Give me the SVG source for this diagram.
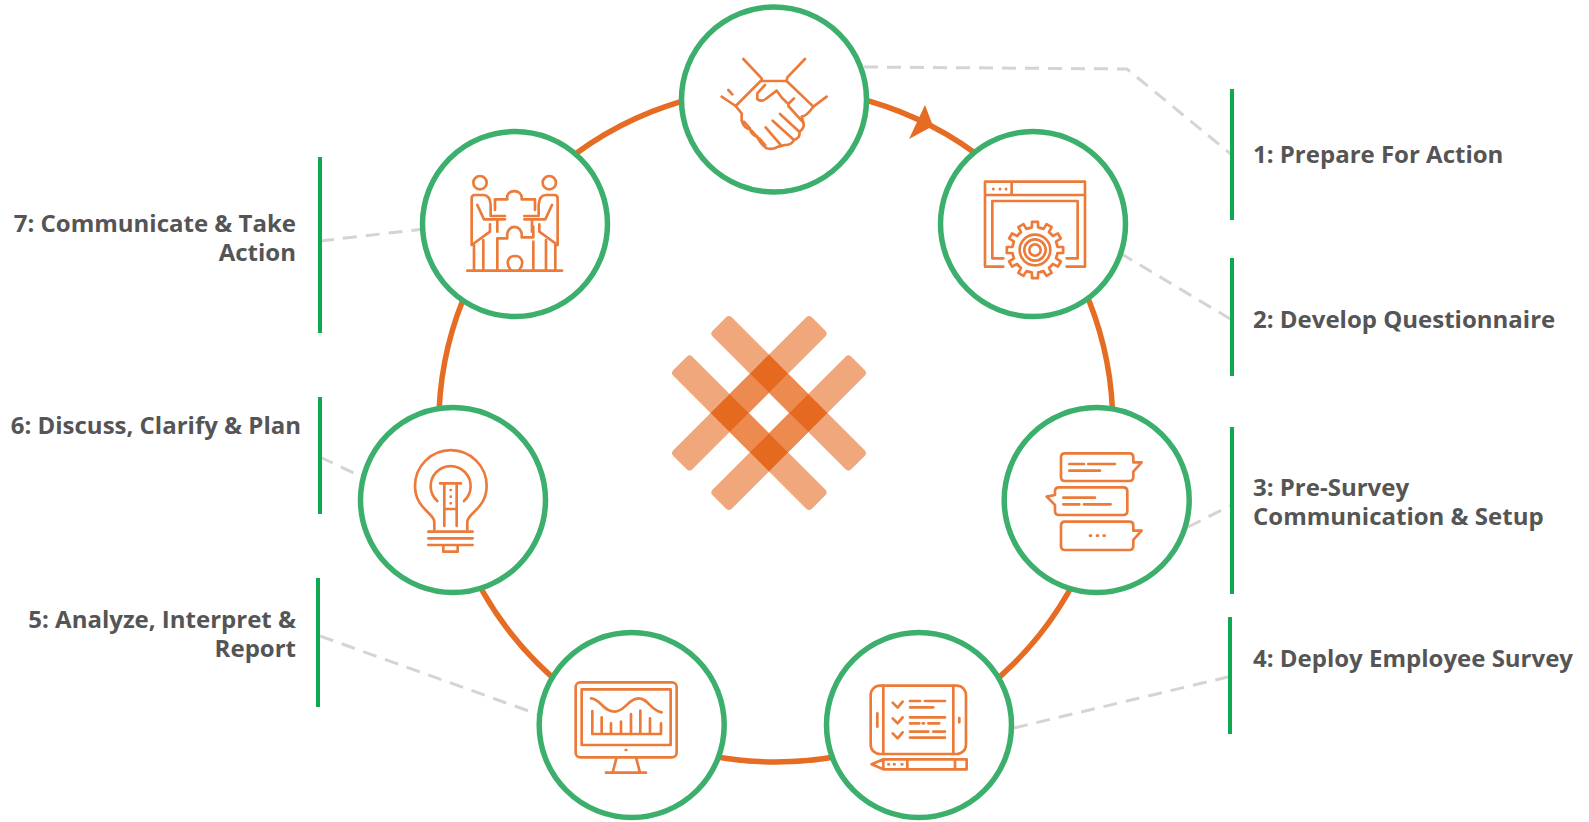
<svg xmlns="http://www.w3.org/2000/svg" xmlns:xlink="http://www.w3.org/1999/xlink" width="1589" height="822" viewBox="0 0 1589 822">
<style>
text{font-family:"Open Sans","Noto Sans","Liberation Sans",sans-serif;font-weight:700;font-size:24px;fill:#555}
.e{text-anchor:end}
.n{fill:#fff;stroke:#3BAF6B;stroke-width:5.5}
.i{fill:none;stroke:#EC7B3A;stroke-width:8;stroke-linecap:round;stroke-linejoin:round}
.d{fill:#EC7B3A}
.g{stroke:#0DAA52;stroke-width:4;fill:none}
.c{fill:none;stroke:#D4D4D4;stroke-width:3;stroke-dasharray:14 9}
</style>
<defs>
<path id="tooth" d="M65.7,-17.6 L67.3,-9.5 L84.5,-8.9 L84.5,8.9 L67.3,9.5 L65.7,17.6"/>
</defs>
<g id="connectors">
<circle cx="775.8" cy="425" r="337" fill="none" stroke="#E56C22" stroke-width="5.5"/>
<path d="M925,105 L909,139 L933,126Z" fill="#E56C22"/>
<path class="c" d="M864,67 L1127,69 L1232,155"/>
<path class="c" d="M1120,253 L1232,320"/>
<path class="c" d="M1188,527 L1232,505"/>
<path class="c" d="M1014,728 L1232,676"/>
<path class="c" d="M320,636 L537,714"/>
<path class="c" d="M320,457 L360,476"/>
<path class="c" d="M320,241 L424,229"/>
<path class="g" d="M1232,89V220M1232,258V376M1232,427V594M1230,617V734M320,157V333M320,397V514M318,578V707"/>
</g>
<g id="logo" transform="translate(769,413) rotate(45)">
<g fill="#EFA77B">
<rect x="-98" y="-41.3" width="196" height="27" rx="4"/>
<rect x="-98" y="14.3" width="196" height="27" rx="4"/>
<rect x="-41.3" y="-98" width="27" height="196" rx="4"/>
<rect x="14.3" y="-98" width="27" height="196" rx="4"/>
</g>
<g fill="#EC8A50">
<rect x="-14.3" y="-41.3" width="28.6" height="27"/>
<rect x="-14.3" y="14.3" width="28.6" height="27"/>
<rect x="-41.3" y="-14.3" width="27" height="28.6"/>
<rect x="14.3" y="-14.3" width="27" height="28.6"/>
</g>
<g fill="#E56A20">
<rect x="-41.3" y="-41.3" width="27" height="27"/>
<rect x="14.3" y="-41.3" width="27" height="27"/>
<rect x="-41.3" y="14.3" width="27" height="27"/>
<rect x="14.3" y="14.3" width="27" height="27"/>
</g>
</g>
<g id="node1">
<circle class="n" cx="774" cy="99.5" r="92.5"/>
<g class="i" transform="translate(670,0) scale(.3333)">
<path d="M220,177L275,235V243H350L352,232L405,177"/>
<path d="M155,290L197,318L272,243M175,270L187,283M470,290L430,320L350,243"/>
<path d="M197,318L215,340V362Q222,385 240,388Q245,405 262,410Q270,430 290,445Q310,450 325,440L345,435Q365,435 372,420Q392,415 388,395Q405,385 400,368L395,350Q410,348 430,320"/>
<path d="M285,255L262,280V297C270,305 280,302 287,297L320,272C328,285 340,300 355,312L372,295M355,318L400,368"/>
<path d="M330,342L388,395M308,362L372,420M287,382L332,435"/>
<path d="M222,365L240,385M245,392L262,412M268,415L285,435"/>
</g>
</g>
<g id="node2">
<circle class="n" cx="1033" cy="224" r="92.5"/>
<g class="i" transform="translate(930,130) scale(.3333)">
<path d="M220,410H165V155H465V410H410M165,195H465M245,155V195M220,385H187V213H443V385H410"/>
<circle class="d" cx="190" cy="177" r="4.5" stroke="none"/><circle class="d" cx="210" cy="177" r="4.5" stroke="none"/><circle class="d" cx="228" cy="177" r="4.5" stroke="none"/>
<g transform="translate(315,360)">
<circle r="68" fill="#fff" stroke="none"/>
<use xlink:href="#tooth" href="#tooth" transform="rotate(0)"/><use xlink:href="#tooth" href="#tooth" transform="rotate(30)"/><use xlink:href="#tooth" href="#tooth" transform="rotate(60)"/><use xlink:href="#tooth" href="#tooth" transform="rotate(90)"/><use xlink:href="#tooth" href="#tooth" transform="rotate(120)"/><use xlink:href="#tooth" href="#tooth" transform="rotate(150)"/><use xlink:href="#tooth" href="#tooth" transform="rotate(180)"/><use xlink:href="#tooth" href="#tooth" transform="rotate(210)"/><use xlink:href="#tooth" href="#tooth" transform="rotate(240)"/><use xlink:href="#tooth" href="#tooth" transform="rotate(270)"/><use xlink:href="#tooth" href="#tooth" transform="rotate(300)"/><use xlink:href="#tooth" href="#tooth" transform="rotate(330)"/>
<circle r="46"/><circle r="32"/><circle r="17"/>
</g>
</g>
</g>
<g id="node3">
<circle class="n" cx="1096.7" cy="500" r="92.5"/>
<g class="i" transform="translate(1000,405) scale(.3333)">
<path d="M195,145H388Q400,145 400,157V172H425L400,200V216Q400,228 388,228H195Q183,228 183,216V157Q183,145 195,145Z"/>
<path d="M208,177H252M265,177H345M208,197H300"/>
<path d="M177,247H370Q382,247 382,259V318Q382,330 370,330H177Q165,330 165,318V300L140,275L165,270V259Q165,247 177,247Z"/>
<path d="M190,278H285M190,298H238M252,298H332"/>
<path d="M195,350H388Q400,350 400,362V377H425L400,405V423Q400,435 388,435H195Q183,435 183,423V362Q183,350 195,350Z"/>
<path d="M270,392H273M291,392H294M311,392H314"/>
</g>
</g>
<g id="node4">
<circle class="n" cx="919" cy="725" r="92.5"/>
<g class="i" transform="translate(820,630) scale(.3333)">
<rect x="152" y="167" width="286" height="205" rx="28"/>
<path d="M190,167V372M400,167V372M172,250V290M418,264V277"/>
<path d="M218,218L233,233L248,215M218,265L233,280L248,262M218,310L233,325L248,307"/>
<path d="M270,213H300M315,213H375M270,232H340M270,262H375M270,280H298M308,280H312M325,280H358M270,305H325M340,305H375M270,323H375"/>
<path d="M190,388H440V418H190L155,403ZM190,388V418M262,388V418M405,388V418M205,403H207M222,403H224M245,403H247"/>
</g>
</g>
<g id="node5">
<circle class="n" cx="631.7" cy="725" r="92.5"/>
<g class="i" transform="translate(535,630) scale(.3333)">
<rect x="122" y="157" width="303" height="225" rx="14"/>
<rect x="140" y="178" width="267" height="167"/>
<path d="M245,382L233,428M303,382L315,428M213,428H333"/>
<path d="M272,360H274"/>
<path d="M168,205C195,205 205,245 238,245C270,245 280,205 310,205C340,205 345,240 380,247"/>
<path d="M172,243V312H378V280M200,262V312M228,280V312M258,275V312M288,252V312M316,242V312M345,265V312"/>
</g>
</g>
<g id="node6">
<circle class="n" cx="453" cy="500" r="92.5"/>
<g class="i" transform="translate(355,405) scale(.3333)">
<path d="M238,375V350C238,325 180,310 180,243A107,107 0 0 1 395,243C395,310 337,325 337,350V375"/>
<path d="M247,288A60,60 0 1 1 327,288"/>
<path d="M255,235H318M268,235V363M305,235V363M268,312H305"/>
<path d="M287,255H287.5M287,275H287.5M287,295H287.5"/>
<path d="M220,380H353M220,400H353M220,420H353M265,422V440H308V422"/>
</g>
</g>
<g id="node7">
<circle class="n" cx="515" cy="224" r="92.5"/>
<g class="i" transform="translate(420,130) scale(.3333)">
<circle cx="180" cy="158" r="20"/><circle cx="388" cy="158" r="20"/>
<path d="M142,422H426"/>
<path d="M155,345V205Q155,195 165,195H190Q210,195 212,225V258H255M172,225L192,268H255M232,268V305M155,345L210,305V283M162,345V422M190,330V422"/>
<path d="M413,345V205Q413,195 403,195H378Q358,195 356,225V258H313M396,225L376,268H313M336,268V305M413,345L358,305V283M406,345V422M378,330V422"/>
<path d="M225,240V208H262C255,175 310,175 305,208H345V240"/>
<path d="M232,422V325H262C255,280 310,280 305,322H340V290M340,335V422"/>
<path d="M272,420C255,398 265,378 285,378C305,378 315,398 298,420"/>
</g>
</g>
<g id="labels">
<text x="1253" y="163">1: Prepare For Action</text>
<text x="1253" y="328">2: Develop Questionnaire</text>
<text x="1253" y="496">3: Pre-Survey</text>
<text x="1253" y="525">Communication &amp; Setup</text>
<text x="1253" y="667">4: Deploy Employee Survey</text>
<text class="e" x="296" y="232">7: Communicate &amp; Take</text>
<text class="e" x="296" y="261">Action</text>
<text class="e" x="301" y="434">6: Discuss, Clarify &amp; Plan</text>
<text class="e" x="296" y="628">5: Analyze, Interpret &amp;</text>
<text class="e" x="296" y="657">Report</text>
</g>
</svg>
